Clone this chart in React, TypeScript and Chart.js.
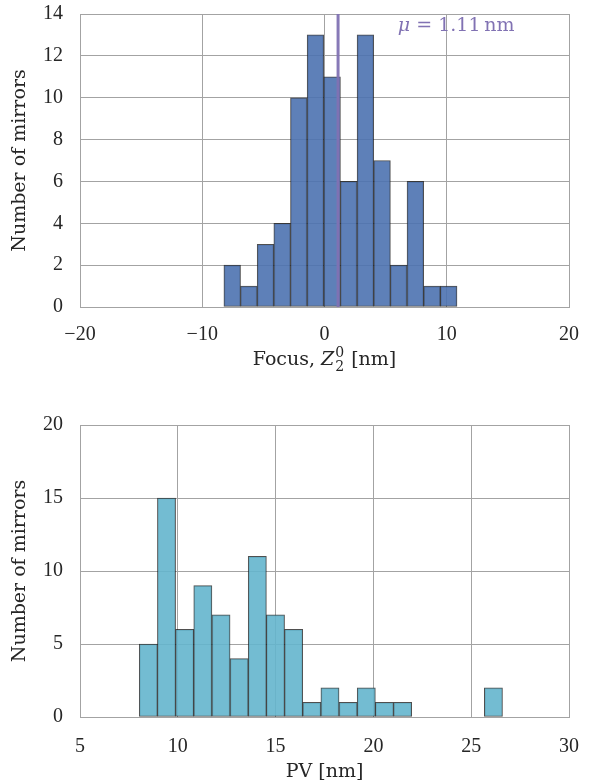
import React, { useEffect, useRef } from "react";
import { Chart, registerables } from "chart.js";

Chart.register(...registerables);

// ---------- data ----------
const focusBinStart = -8.23; // nm, left edge of first bin
const focusBinWidth = 1.362; // nm
const focusCounts = [2, 1, 3, 4, 10, 13, 11, 6, 13, 7, 2, 6, 1, 1];
const focusMean = 1.11;
const focusXTicks = [-20, -10, 0, 10, 20];
const focusYTicks = [0, 2, 4, 6, 8, 10, 12, 14];

const pvBinStart = 8.03;
const pvBinWidth = 0.9285;
const pvCounts = [5, 15, 6, 9, 7, 4, 11, 7, 6, 1, 2, 1, 2, 1, 1, 0, 0, 0, 0, 2];
const pvXTicks = [5, 10, 15, 20, 25, 30];
const pvYTicks = [0, 5, 10, 15, 20];

const TICK_FONT = "'Liberation Serif', serif";
const TITLE_FONT = "'DejaVu Serif', serif";
const TFS = 20;
const LFS = 19;
const GRID = "#a3a3a3";
const TEXT = "#262626";

const fmt = (v: number) => (v < 0 ? "\u2212" + Math.abs(v) : String(v));

function binPoints(start: number, width: number, counts: number[]) {
  return counts.map((c, i) => ({ x: start + (i + 0.5) * width, y: c }));
}

function makeTitlePlugin(drawX: (ctx: CanvasRenderingContext2D, cx: number, y: number) => void, xTitleY: number) {
  return {
    id: "titles",
    afterDraw(chart: any) {
      const ctx: CanvasRenderingContext2D = chart.ctx;
      const a = chart.chartArea;
      ctx.save();
      ctx.fillStyle = TEXT;
      ctx.font = `${LFS}px ${TITLE_FONT}`;
      ctx.textAlign = "center";
      ctx.textBaseline = "middle";
      ctx.save();
      ctx.translate(20, (a.top + a.bottom) / 2);
      ctx.rotate(-Math.PI / 2);
      ctx.fillText("Number of mirrors", 0, 0);
      ctx.restore();
      drawX(ctx, (a.left + a.right) / 2, xTitleY);
      ctx.restore();
    },
  };
}

function baseOptions(
  xMin: number,
  xMax: number,
  xTicks: number[],
  yMax: number,
  yTicks: number[],
  padTop: number,
  xAxisHeight: number,
  xTickPad: number
): any {
  return {
    responsive: false,
    animation: false,
    devicePixelRatio: 1,
    layout: { padding: { top: padTop, right: 21, left: 0, bottom: 0 } },
    plugins: { legend: { display: false }, tooltip: { enabled: false } },
    scales: {
      x: {
        type: "linear",
        offset: false,
        min: xMin,
        max: xMax,
        afterBuildTicks: (s: any) => {
          s.ticks = xTicks.map((v) => ({ value: v }));
        },
        afterFit: (s: any) => {
          s.height = xAxisHeight;
          s.paddingLeft = 0;
          s.paddingRight = 0;
        },
        ticks: {
          callback: (v: number) => fmt(v),
          color: TEXT,
          font: { family: TICK_FONT, size: TFS },
          padding: xTickPad,
          maxRotation: 0,
        },
        grid: { color: GRID, lineWidth: 1, drawTicks: false, offset: false },
        border: { color: GRID, width: 1 },
      },
      y: {
        type: "linear",
        min: 0,
        max: yMax,
        afterBuildTicks: (s: any) => {
          s.ticks = yTicks.map((v) => ({ value: v }));
        },
        afterFit: (s: any) => {
          s.width = 80;
          s.paddingTop = 0;
          s.paddingBottom = 0;
        },
        ticks: {
          color: TEXT,
          font: { family: TICK_FONT, size: TFS },
          padding: 17,
        },
        grid: { color: GRID, lineWidth: 1, drawTicks: false },
        border: { color: GRID, width: 1 },
      },
    },
  };
}

function FocusChart() {
  const ref = useRef<HTMLCanvasElement>(null);
  useEffect(() => {
    const meanPlugin = {
      id: "mean",
      afterDatasetsDraw(chart: any) {
        const ctx: CanvasRenderingContext2D = chart.ctx;
        const xs = chart.scales.x;
        const ys = chart.scales.y;
        const a = chart.chartArea;
        const px = xs.getPixelForValue(focusMean);
        ctx.save();
        ctx.strokeStyle = "rgba(129,114,179,0.95)";
        ctx.lineWidth = 3;
        ctx.beginPath();
        ctx.moveTo(px, a.top);
        ctx.lineTo(px, a.bottom);
        ctx.stroke();
        ctx.fillStyle = "#8172B3";
        ctx.textBaseline = "middle";
        ctx.textAlign = "left";
        let x = xs.getPixelForValue(6.0);
        const y = ys.getPixelForValue(13.43);
        ctx.font = `italic ${LFS}px ${TITLE_FONT}`;
        ctx.fillText("\u03bc", x, y);
        x += ctx.measureText("\u03bc").width;
        ctx.font = `${LFS}px ${TITLE_FONT}`;
        const rest = " = " + focusMean.toFixed(2) + "\u2009nm";
        ctx.fillText(rest, x, y);
        ctx.restore();
      },
    };
    const titles = makeTitlePlugin((ctx, cx, y) => {
      const normal = `${LFS}px ${TITLE_FONT}`;
      const italic = `italic ${LFS}px ${TITLE_FONT}`;
      const small = `${Math.round(LFS * 0.72)}px ${TITLE_FONT}`;
      const p1 = "Focus, ";
      const p3 = " [nm]";
      ctx.font = normal;
      const w1 = ctx.measureText(p1).width;
      const w3 = ctx.measureText(p3).width;
      ctx.font = italic;
      const w2 = ctx.measureText("Z").width + 1;
      ctx.font = small;
      const ws = ctx.measureText("0").width + 1;
      const total = w1 + w2 + ws + w3;
      let x = cx - total / 2;
      ctx.textAlign = "left";
      ctx.font = normal;
      ctx.fillText(p1, x, y);
      x += w1;
      ctx.font = italic;
      ctx.fillText("Z", x, y);
      x += w2;
      ctx.font = small;
      ctx.fillText("0", x, y - 7);
      ctx.fillText("2", x, y + 7);
      x += ws;
      ctx.font = normal;
      ctx.fillText(p3, x, y);
    }, 360);
    const chart = new Chart(ref.current!, {
      type: "bar",
      data: {
        datasets: [
          {
            data: binPoints(focusBinStart, focusBinWidth, focusCounts) as any,
            backgroundColor: "rgba(76,114,176,0.9)",
            borderColor: "rgba(20,20,20,0.75)",
            borderWidth: 1,
            borderSkipped: false,
            barPercentage: 1,
            categoryPercentage: 1,
          },
        ],
      },
      options: baseOptions(-20, 20, focusXTicks, 14, focusYTicks, 14, 83, 16),
      plugins: [meanPlugin, titles],
    });
    return () => chart.destroy();
  }, []);
  return <canvas ref={ref} width={590} height={390} style={{ display: "block" }} />;
}

function PVChart() {
  const ref = useRef<HTMLCanvasElement>(null);
  useEffect(() => {
    const titles = makeTitlePlugin((ctx, cx, y) => {
      ctx.font = `${LFS}px ${TITLE_FONT}`;
      ctx.textAlign = "center";
      ctx.fillText("PV [nm]", cx, y);
    }, 382);
    const chart = new Chart(ref.current!, {
      type: "bar",
      data: {
        datasets: [
          {
            data: binPoints(pvBinStart, pvBinWidth, pvCounts) as any,
            backgroundColor: "rgba(100,181,205,0.9)",
            borderColor: "rgba(20,20,20,0.75)",
            borderWidth: 1,
            borderSkipped: false,
            barPercentage: 1,
            categoryPercentage: 1,
          },
        ],
      },
      options: baseOptions(5, 30, pvXTicks, 20, pvYTicks, 35, 66, 18),
      plugins: [titles],
    });
    return () => chart.destroy();
  }, []);
  return <canvas ref={ref} width={590} height={393} style={{ display: "block" }} />;
}

export default function App() {
  return (
    <div style={{ position: "absolute", left: 0, top: 0, width: 590, height: 783, background: "#fff" }}>
      <FocusChart />
      <PVChart />
    </div>
  );
}
